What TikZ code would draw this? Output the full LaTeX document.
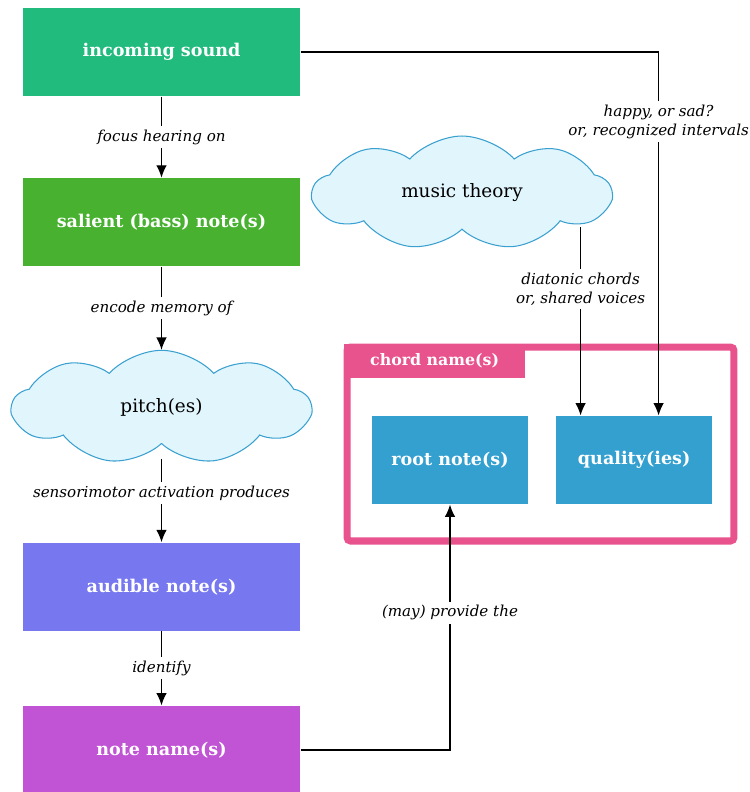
\documentclass[tikz,border=0pt]{standalone}
\usepackage{fontspec}
\setmainfont{DejaVu Serif}
\usetikzlibrary{arrows.meta, positioning, shapes.symbols}

\definecolor{soundgreen}{RGB}{32,187,125}
\definecolor{bassgreen}{RGB}{72,178,48}
\definecolor{audibleblue}{RGB}{119,119,240}
\definecolor{namepurple}{RGB}{192,84,212}
\definecolor{chordpink}{RGB}{232,82,141}
\definecolor{partblue}{RGB}{51,160,208}
\definecolor{cloudfill}{RGB}{225,245,252}
\definecolor{cloudline}{RGB}{58,160,208}

\begin{document}
\begin{tikzpicture}[x=0.02cm,y=-0.02cm,>={Latex[length=7pt,width=6pt]},line width=0.7pt]
  \tikzstyle{box}=[rectangle,minimum width=5.54cm,minimum height=1.76cm,text=white,font=\fontsize{10}{12}\selectfont\bfseries]
  \tikzstyle{part}=[box,fill=partblue,minimum width=3.12cm]
  \tikzstyle{thought}=[cloud,cloud puffs=9,cloud puff arc=95,cloud ignores aspect,draw=cloudline,fill=cloudfill,line width=0.6pt,minimum width=5.96cm,minimum height=2.28cm,font=\fontsize{10.5}{12}\selectfont]
  \tikzstyle{verb}=[fill=white,align=center,inner sep=2pt,font=\fontsize{8.6}{11}\selectfont\itshape]

  \useasboundingbox (0,0) rectangle (750,792);

  % left column
  \node[box,fill=soundgreen]  (sound)   at (161.5,52)             {incoming sound};
  \node[box,fill=bassgreen]   (bass)    [below=1.62cm of sound]   {salient (bass) note(s)};
  \node[thought]              (pitch)   [below=1.66cm of bass]    {pitch(es)};
  \node[box,fill=audibleblue] (audible) [below=1.96cm of pitch]   {audible note(s)};
  \node[box,fill=namepurple]  (names)   [below=1.48cm of audible] {note name(s)};

  % chord name frame
  \node[draw=chordpink,line width=4pt,rounded corners=2pt,minimum width=7.74cm,minimum height=3.88cm] (chord) at (540.5,444) {};
  \node[fill=chordpink,text=white,font=\fontsize{9}{11}\selectfont\bfseries,anchor=north west,minimum width=3.62cm,minimum height=0.68cm] (chordtab) at (chord.north west) {chord name(s)};
  \node[part] (root)    at (450,460)                {root note(s)};
  \node[part] (quality) [right=0.54cm of root]      {quality(ies)};
  \node[thought] (theory) at (462,193)              {music theory};

  \coordinate (qleft)  at ([xshift=0.5cm]quality.north west);
  \coordinate (qright) at ([xshift=2.06cm]quality.north west);

  \path[->]
  (sound)   edge node[verb] {focus hearing on}                  (bass)
  (bass)    edge node[verb] {encode memory of}                  (pitch)
  (pitch)   edge[shorten <=0.3cm] node[verb] {sensorimotor activation produces} (audible)
  (audible) edge node[verb] {identify}                          (names)
  (sound)   edge[to path={-| (\tikztotarget) \tikztonodes}]
            node[verb,pos=0.596] {happy, or sad?\\or, recognized intervals} (qright)
  (theory.-20 -| qleft) edge node[verb,pos=0.33] {diatonic chords\\or, shared voices} (qleft)
  (names)   edge[to path={-| (\tikztotarget) \tikztonodes}]
            node[verb,pos=0.78] {(may) provide the}            (root)
  ;
\end{tikzpicture}
\end{document}
